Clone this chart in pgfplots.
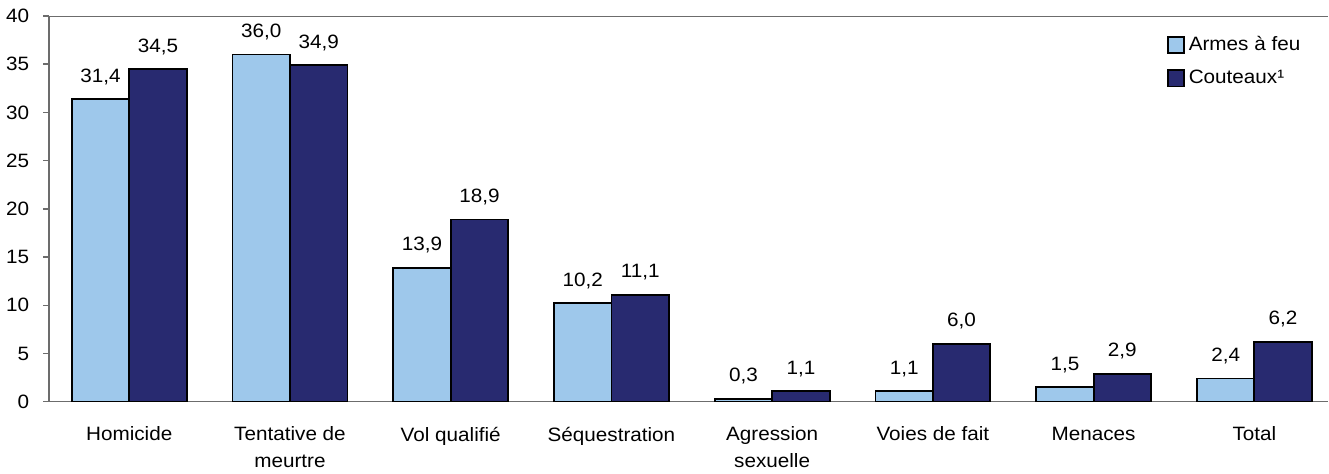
\documentclass[border=0pt]{standalone}
\usepackage{pgfplots}
\pgfplotsset{compat=1.18}
\usepackage{fontspec}
\setmainfont[FakeStretch=1.07]{Liberation Sans}

\definecolor{feu}{RGB}{158,200,235}
\definecolor{couteau}{RGB}{40,42,112}

\begin{document}
\begin{tikzpicture}
\begin{axis}[
    name=main,
    scale only axis,
    width=695pt, height=209.5pt,
    ybar=0pt, bar width=31.2pt,
    xmin=-0.5, xmax=7.46,
    ymin=0, ymax=40,
    ytick={0,5,...,40},
    xtick={0,...,7},
    xticklabels={Homicide,{Tentative de\\meurtre},Vol qualifié,Séquestration,{Agression\\sexuelle},Voies de fait,Menaces,Total},
    xticklabel style={align=center, yshift=-7pt},
    x tick label style={font=\fontsize{10.5pt}{14.5pt}\selectfont},
    y tick label style={font=\fontsize{10.5pt}{12pt}\selectfont},
    major x tick style={draw=none},
    axis x line*=bottom,
    axis y line*=left,
    axis line style={gray!85!black, line width=0.8pt},
    y axis line style={-},
    x axis line style={-},
    tick align=outside,
    major tick length=3.2pt,
    ytick style={gray!85!black, line width=0.8pt},
    /pgf/number format/assume math mode=true,
    yticklabel style={xshift=-4pt},
    nodes near coords,
    nodes near coords style={font=\fontsize{10.5pt}{12pt}\selectfont, yshift=4pt,
      /pgf/number format/.cd, use comma, fixed, fixed zerofill, precision=1, assume math mode=true},
    legend style={draw=none, fill=none, at={(0.872,0.962)}, anchor=north west,
      font=\fontsize{10.5pt}{12pt}\selectfont, row sep=5pt, inner sep=1pt},
    legend cell align=left,
    legend image code/.code={\draw[#1, line width=1pt] (0pt,-4.5pt) rectangle (9pt,4.5pt);},
    every axis plot/.append style={draw=black, line width=1pt},
]
\addplot[fill=feu] coordinates {
    (0,31.4) (1,36.0) (2,13.9) (3,10.2) (4,0.3) (5,1.1) (6,1.5) (7,2.4)
};
\addplot[fill=couteau] coordinates {
    (0,34.5) (1,34.9) (2,18.9) (3,11.1) (4,1.1) (5,6.0) (6,2.9) (7,6.2)
};
\legend{Armes à feu,Couteaux¹}
\draw[gray!85!black, line width=0.8pt] (rel axis cs:0,1) -- (rel axis cs:1,1);
\end{axis}
\path ([yshift=8.7pt]main.north west) -- ([yshift=8.7pt]main.north east);
\end{tikzpicture}
\end{document}
